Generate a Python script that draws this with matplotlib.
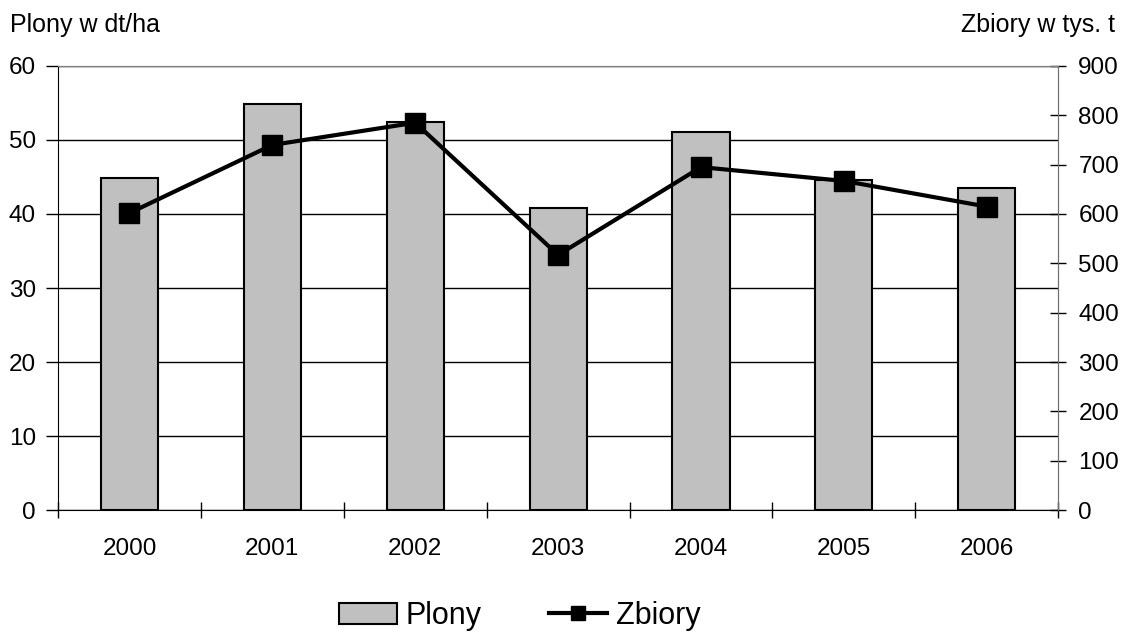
import matplotlib
matplotlib.use('Agg')
import matplotlib.pyplot as plt

lata = ['2000', '2001', '2002', '2003', '2004', '2005', '2006']
plony = [44.9, 54.9, 52.4, 40.8, 51.1, 44.6, 43.5]      # dt/ha
zbiory = [602, 740, 785, 517, 695, 667, 615]           # tys. t

plt.rcParams['font.family'] = ['Liberation Sans', 'DejaVu Sans']

fig = plt.figure(figsize=(11.25, 6.32), dpi=100)
ax = fig.add_axes([0.0516, 0.193, 0.889, 0.7026])

x = range(len(lata))
ax.bar(x, plony, width=0.4, color='#c0c0c0', edgecolor='black', linewidth=1.5, zorder=3, label='Plony')
ax.set_xlim(-0.5, len(lata) - 0.5)
ax.set_ylim(0, 60)
ax.set_yticks(range(0, 61, 10))
ax.grid(axis='y', color='black', linewidth=1, zorder=0)
ax.set_xticks(x)
ax.set_xticklabels(lata)
ax.set_xticks([i - 0.5 for i in range(len(lata) + 1)], minor=True)
ax.tick_params(axis='x', which='major', length=0, pad=20, labelsize=17.5)
ax.tick_params(axis='x', which='minor', direction='inout', length=11, width=1)
ax.tick_params(axis='y', direction='out', length=9, width=1, pad=7, labelsize=17.5)

ax.spines['top'].set_color('#808080')
ax.spines['right'].set_color('#707070')

ax2 = ax.twinx()
ax2.plot(x, zbiory, color='black', linewidth=3, marker='s', markersize=14, zorder=4, label='Zbiory')
ax2.set_ylim(0, 900)
ax2.set_yticks(range(0, 901, 100))
ax2.tick_params(axis='y', direction='inout', length=11, width=1, pad=9, labelsize=17.5)
ax2.spines['top'].set_color('#808080')
ax2.spines['right'].set_color('#707070')
ax2.spines['left'].set_visible(False)
ax2.spines['bottom'].set_visible(False)

fig.text(0.009, 0.96, 'Plony w dt/ha', fontsize=18, ha='left', va='center')
fig.text(0.991, 0.96, 'Zbiory w tys. t', fontsize=18, ha='right', va='center')

h1, l1 = ax.get_legend_handles_labels()
h2, l2 = ax2.get_legend_handles_labels()
leg = fig.legend(h1 + h2, l1 + l2, loc='lower center', bbox_to_anchor=(0.462, -0.042), ncol=2,
                 frameon=False, fontsize=22, handlelength=1.9, handletextpad=0.3, columnspacing=2.2)
leg.legend_handles[1].set_markersize(10)

plt.savefig('out.png', dpi=100)
